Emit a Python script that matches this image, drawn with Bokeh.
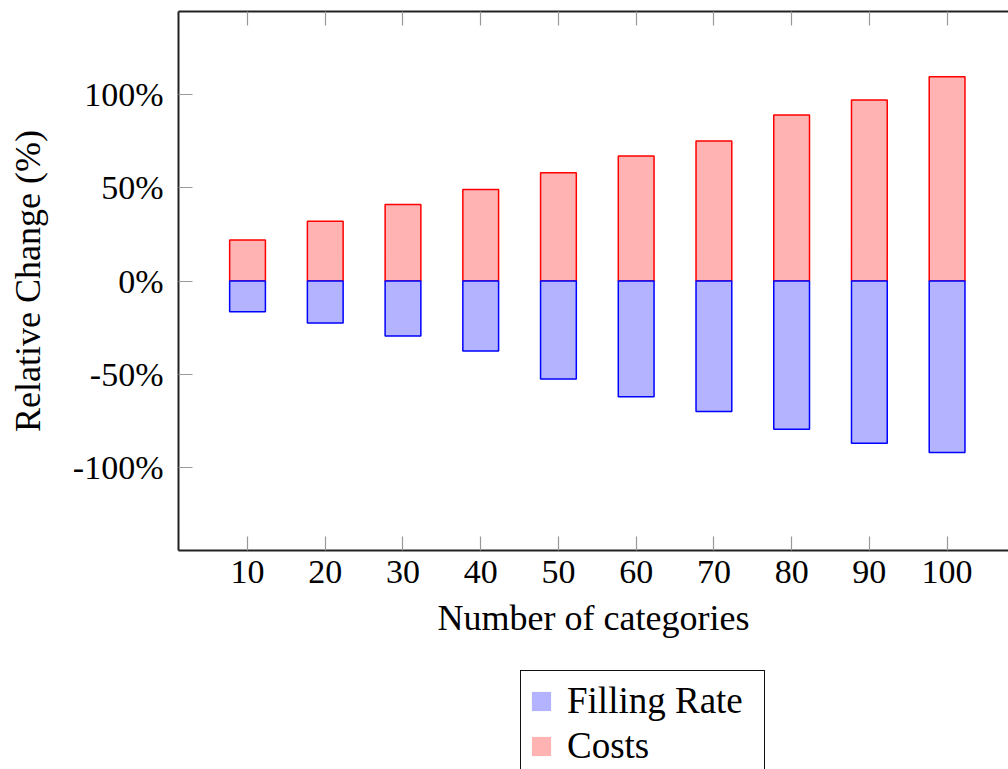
from bokeh.plotting import figure
from bokeh.layouts import column
from bokeh.models import (Range1d, LinearAxis, FixedTicker, PrintfTickFormatter,
                          CustomJSTickFormatter, Legend, LegendItem, ColumnDataSource)
from bokeh.embed import file_html
from bokeh.resources import INLINE

categories = [10, 20, 30, 40, 50, 60, 70, 80, 90, 100]
costs = [22, 32, 41, 49, 58, 67, 75, 89, 97, 109.5]
filling_rate = [-16.5, -22.5, -29.5, -37.5, -52.5, -62, -70, -79.5, -87, -92]
y_ticks = [-100, -50, 0, 50, 100]

FONT = "Liberation Serif"
BLUE_FILL, BLUE_LINE = "#b3b3ff", "#0000ff"
RED_FILL, RED_LINE = "#ffb3b3", "#ff0000"

src = ColumnDataSource(dict(x=categories, cost=costs, fill=filling_rate,
                            zero=[0] * len(categories)))

p = figure(width=1008, height=660, output_backend="svg", toolbar_location=None,
           x_range=Range1d(1.12, 107.9), y_range=Range1d(-144.5, 144.5),
           min_border_left=178, min_border_top=11, min_border_bottom=110,
           min_border_right=0, x_axis_type=None, y_axis_type=None)
p.outline_line_color = None
p.background_fill_color = "white"
p.border_fill_color = "white"

# axes
xb = LinearAxis(ticker=FixedTicker(ticks=categories))
xt = LinearAxis(ticker=FixedTicker(ticks=categories),
                formatter=CustomJSTickFormatter(code="return ''"))
yl = LinearAxis(ticker=FixedTicker(ticks=y_ticks),
                formatter=PrintfTickFormatter(format="%d%%"))
for ax in (xb, xt, yl):
    ax.axis_line_color = "#222222"
    ax.axis_line_width = 2
    ax.major_tick_in = 14
    ax.major_tick_out = 0
    ax.major_tick_line_color = "#999999"
    ax.major_tick_line_width = 1.2
    ax.minor_tick_line_color = None
    ax.major_label_text_font = FONT
    ax.major_label_text_font_size = "34px"
    ax.major_label_text_color = "black"
    ax.axis_label_text_font = FONT
    ax.axis_label_text_font_size = "36px"
    ax.axis_label_text_font_style = "normal"
    ax.axis_label_text_color = "black"
xb.major_label_standoff = 10
xb.axis_label = "Number of categories"
xb.axis_label_standoff = 12
xt.major_label_standoff = 0
yl.major_label_standoff = 15
yl.axis_label = "Relative Change (%)"
yl.axis_label_standoff = 22
p.add_layout(xb, "below")
p.add_layout(xt, "above")
p.add_layout(yl, "left")

p.ygrid.ticker = FixedTicker(ticks=y_ticks)
p.ygrid.grid_line_color = "#bbbbbb"
p.ygrid.grid_line_width = 1.5
p.ygrid.grid_line_dash = "10 11"
p.xgrid.visible = False

# bars
p.vbar(x="x", width=4.6, bottom="zero", top="cost", source=src,
       fill_color=RED_FILL, line_color=RED_LINE, line_width=1.5)
p.vbar(x="x", width=4.6, bottom="fill", top="zero", source=src,
       fill_color=BLUE_FILL, line_color=BLUE_LINE, line_width=1.5)

# legend strip below the chart (swatch renderers sit outside the visible range)
p2 = figure(width=1008, height=109, output_backend="svg", toolbar_location=None,
            x_range=Range1d(0, 1), y_range=Range1d(0, 1),
            min_border=0, x_axis_type=None, y_axis_type=None)
p2.outline_line_color = None
p2.grid.visible = False
p2.background_fill_color = "white"
p2.border_fill_color = "white"
lb = p2.quad(left=[-5], right=[-4], bottom=[-5], top=[-4],
             fill_color=BLUE_FILL, line_color=None)
lr = p2.quad(left=[-5], right=[-4], bottom=[-5], top=[-4],
             fill_color=RED_FILL, line_color=None)
legend = Legend(items=[LegendItem(label="Filling Rate", renderers=[lb]),
                       LegendItem(label="Costs", renderers=[lr])],
                location=(342, -7))
legend.label_text_font = FONT
legend.label_text_font_size = "37px"
legend.label_text_color = "black"
legend.glyph_width = 24
legend.glyph_height = 24
legend.label_standoff = 14
legend.label_width = 189
legend.label_height = 40
legend.spacing = 2
legend.padding = 8
legend.margin = 0
legend.border_line_color = "#111111"
legend.border_line_alpha = 1
legend.border_line_width = 1.5
legend.background_fill_color = "white"
legend.background_fill_alpha = 1
p2.add_layout(legend, "center")

open("out.html", "w").write(file_html(column(p, p2), INLINE))
